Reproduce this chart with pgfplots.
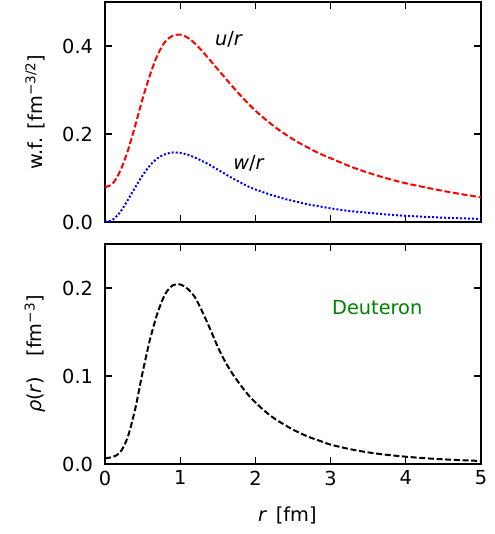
\documentclass[border=0pt]{standalone}
\usepackage{fontspec}
\setmainfont{DejaVu Sans}
\usepackage{pgfplots}
\pgfplotsset{compat=1.18}
\definecolor{mplgreen}{HTML}{008000}
\begin{document}
\fontsize{14.5pt}{17.4pt}\selectfont
\begin{tikzpicture}
\useasboundingbox (-78.75pt,-52.5pt) rectangle (291.75pt,348pt);
\pgfplotsset{myax/.style={
  scale only axis, width=282pt, height=165pt,
  xmin=0, xmax=5, ymin=0,
  tick align=inside, xtick={0,1,2,3,4,5},
  major tick length=5.5pt,
  axis line style={line width=0.9pt, black},
  every tick/.style={black, line width=0.8pt},
  yticklabel style={xshift=-4pt},
  clip=true,
}}
\begin{axis}[myax, at={(0,181.5pt)}, anchor=south west,
  ymax=0.5, ytick={0,0.2,0.4}, yticklabels={0.0,0.2,0.4}, xticklabels={},
  ylabel={w.f.\hspace{0.45em}[fm\textsuperscript{\char"2212 3/2}]},
  ylabel style={at={(axis description cs:-0.186,0.5)}, anchor=center},
]
\addplot[red, line width=1.5pt, dash pattern=on 4.5pt off 2pt, smooth] table {
0.0 0.079
0.1 0.087
0.2 0.115
0.3 0.160
0.4 0.218
0.5 0.280
0.6 0.335
0.7 0.380
0.8 0.410
0.9 0.423
1.0 0.426
1.1 0.419
1.2 0.405
1.3 0.387
1.4 0.367
1.5 0.347
1.6 0.327
1.7 0.307
1.8 0.288
1.9 0.270
2.0 0.253
2.1 0.238
2.2 0.224
2.3 0.211
2.4 0.199
2.5 0.188
2.6 0.178
2.7 0.169
2.8 0.160
2.9 0.152
3.0 0.145
3.25 0.127
3.5 0.112
3.75 0.099
4.0 0.088
4.25 0.079
4.5 0.0705
4.75 0.063
5.0 0.056
};
\addplot[blue, line width=1.5pt, dash pattern=on 1.5pt off 1.5pt, smooth] table {
0.0 0.000
0.1 0.005
0.2 0.022
0.3 0.049
0.4 0.078
0.5 0.106
0.6 0.129
0.7 0.145
0.8 0.154
0.9 0.158
1.0 0.157
1.1 0.153
1.2 0.146
1.3 0.138
1.4 0.129
1.5 0.119
1.6 0.109
1.7 0.099
1.8 0.090
1.9 0.081
2.0 0.074
2.1 0.068
2.2 0.062
2.3 0.057
2.4 0.052
2.5 0.048
2.6 0.044
2.7 0.040
2.8 0.037
2.9 0.034
3.0 0.031
3.25 0.025
3.5 0.021
3.75 0.017
4.0 0.014
4.25 0.0118
4.5 0.0098
4.75 0.0083
5.0 0.007
};
\node at (axis cs:1.649,0.415) {\textit{u}/\textit{r}};
\node at (axis cs:1.915,0.133) {\textit{w}/\textit{r}};
\end{axis}
\begin{axis}[myax, at={(0,0)}, anchor=south west,
  ymax=0.25, ytick={0,0.1,0.2}, yticklabels={0.0,0.1,0.2},
  xticklabels={0,1,2,3,4,5},
  ylabel={\textit{ρ}(\textit{r})\hspace{1.05em}[fm\textsuperscript{\char"2212 3}]},
  ylabel style={at={(axis description cs:-0.186,0.5)}, anchor=center},
  xlabel={\textit{r}\hspace{0.45em}[fm]},
  xlabel style={at={(axis description cs:0.485,-0.236)}, anchor=center},
]
\addplot[black, line width=1.5pt, dash pattern=on 4.5pt off 2pt, smooth] table {
0.0 0.0065
0.1 0.0080
0.2 0.0130
0.3 0.030
0.4 0.062
0.5 0.104
0.6 0.142
0.7 0.172
0.8 0.193
0.9 0.203
1.0 0.204
1.1 0.199
1.2 0.189
1.3 0.172
1.4 0.153
1.5 0.133
1.6 0.116
1.7 0.102
1.8 0.090
1.9 0.079
2.0 0.070
2.1 0.062
2.2 0.055
2.3 0.049
2.4 0.044
2.5 0.039
2.6 0.035
2.7 0.031
2.8 0.028
2.9 0.025
3.0 0.022
3.25 0.0170
3.5 0.0132
3.75 0.0104
4.0 0.0083
4.25 0.0066
4.5 0.0053
4.75 0.0043
5.0 0.0034
};
\node[text=mplgreen] at (axis cs:3.62,0.178) {Deuteron};
\end{axis}
\end{tikzpicture}
\end{document}
